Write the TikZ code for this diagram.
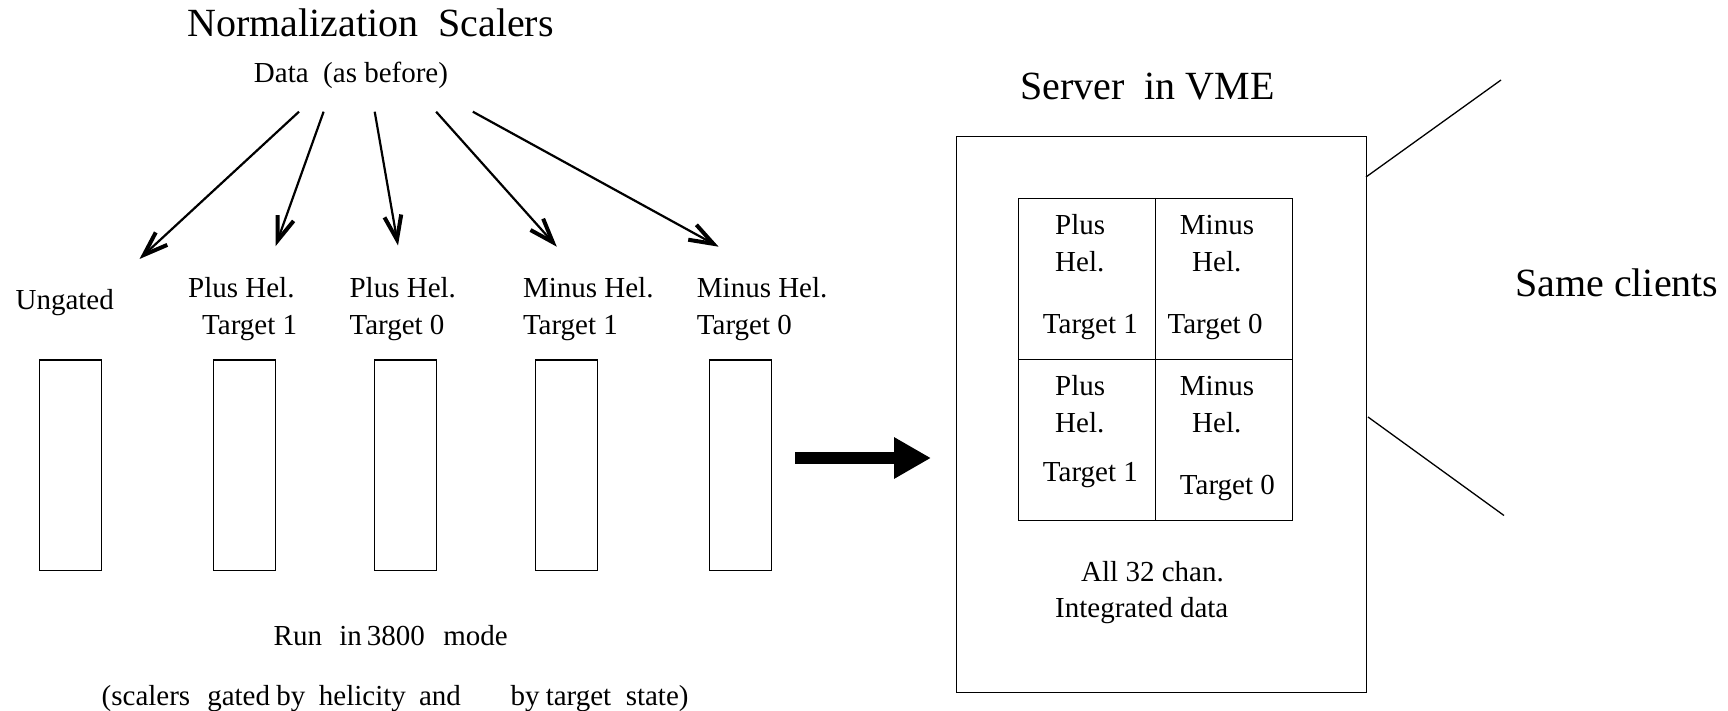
\documentclass[tikz,border=0pt]{standalone}
\usepackage{fontspec}
\setmainfont{Liberation Serif}
\usetikzlibrary{arrows.meta}
\begin{document}
\begin{tikzpicture}[x=1pt,y=-1pt,
  sm/.style={font=\fontsize{29}{35}\selectfont, inner sep=0pt, anchor=base west},
  smc/.style={font=\fontsize{29}{35}\selectfont, inner sep=0pt, anchor=base},
  big/.style={font=\fontsize{40}{48}\selectfont, inner sep=0pt, anchor=base west},
  scaler/.style={draw, line width=1.4pt, minimum width=62.4pt, minimum height=210.7pt, inner sep=0pt, anchor=north west},
  dataarrow/.style={line width=2.2pt, -{Straight Barb[length=24pt,width=17pt,line width=4pt]}},
  thinline/.style={line width=1.3pt},
  fatarrow/.style={line width=12pt, -{Triangle[length=37pt,width=39pt]}}]
\useasboundingbox (0,0) rectangle (1728,711);

% titles
\node[big] (title) at (187,37) {Normalization\ \ Scalers};
\node[smc] (data) at (351,83) {Data\ \ (as before)};

% column labels
\node[sm] (ungated) at (15.4,309.5) {Ungated};
\node[sm] (l2a) at (188,297.7) {Plus Hel.};
\node[sm] (l2b) at (202,334.3) {Target 1};
\node[sm] (l3a) at (349.4,297.7) {Plus Hel.};
\node[sm] (l3b) at (349.4,334.3) {Target 0};
\node[sm] (l4a) at (522.8,297.7) {Minus Hel.};
\node[sm] (l4b) at (522.8,334.3) {Target 1};
\node[sm] (l5a) at (696.7,297.7) {Minus Hel.};
\node[sm] (l5b) at (696.7,334.3) {Target 0};

% scaler boxes
\node[scaler] (r1) at (38.6,359.3) {};
\node[scaler] (r2) at (212.5,359.3) {};
\node[scaler] (r3) at (373.5,359.3) {};
\node[scaler] (r4) at (534.6,359.3) {};
\node[scaler] (r5) at (708.5,359.3) {};

% arrows from data
\coordinate (s1) at (299,111.7);   \coordinate (t1) at (139.5,259);
\coordinate (s2) at (323.6,111.7); \coordinate (t2) at (275.5,246.3);
\coordinate (s3) at (374.7,111.7); \coordinate (t3) at (398,245.5);
\coordinate (s4) at (436.1,111.7); \coordinate (t4) at (556.8,246.7);
\coordinate (s5) at (472.8,111.7); \coordinate (t5) at (718.6,246.7);
\draw[dataarrow] (s1) -- (t1);
\draw[dataarrow] (s2) -- (t2);
\draw[dataarrow] (s3) -- (t3);
\draw[dataarrow] (s4) -- (t4);
\draw[dataarrow] (s5) -- (t5);

% bottom texts
\node[sm] (run) at (273.5,645) {\rlap{Run}\hspace{65.6pt}\rlap{in}\hspace{27.5pt}\rlap{3800}\hspace{76.6pt}mode};
\node[sm] (gated) at (101.5,705) {\rlap{(scalers}\hspace{105.6pt}\rlap{gated}\hspace{69pt}\rlap{by}\hspace{42.7pt}\rlap{helicity}\hspace{100pt}\rlap{and}\hspace{91.7pt}\rlap{by}\hspace{35pt}\rlap{target}\hspace{80pt}state)};

% fat arrow
\coordinate (fa) at (795,458);
\coordinate (fb) at (931,458);
\draw[fatarrow] (fa) -- (fb);

% server
\node[big] (srvlabel) at (1020,99.3) {Server\ \ in VME};
\node[draw, line width=1.4pt, minimum width=410pt, minimum height=556pt, inner sep=0pt, anchor=north west] (server) at (956,136) {};
\node[draw, line width=1.4pt, minimum width=273.5pt, minimum height=321.5pt, inner sep=0pt, anchor=north west] (grid) at (1018,198) {};
\draw[thinline] (grid.north) -- (grid.south);
\draw[thinline] (grid.west) -- (grid.east);

\node[sm] (tl1) at (1055,235) {Plus};
\node[sm] (tl2) at (1055,271) {Hel.};
\node[sm] (tl3) at (1042.7,333) {Target 1};
\node[sm] (tr1) at (1179.7,235) {Minus};
\node[sm] (tr2) at (1192,271) {Hel.};
\node[sm] (tr3) at (1167.4,333) {Target 0};
\node[sm] (bl1) at (1055,395) {Plus};
\node[sm] (bl2) at (1055,432) {Hel.};
\node[sm] (bl3) at (1042.7,481) {Target 1};
\node[sm] (br1) at (1179.7,395) {Minus};
\node[sm] (br2) at (1192,432) {Hel.};
\node[sm] (br3) at (1179.7,494) {Target 0};
\node[sm] (all32) at (1081,581) {All 32 chan.};
\node[sm] (integ) at (1055,617) {Integrated data};

% clients
\node[big] (clients) at (1515,296.7) {Same clients};
\coordinate (c1a) at (1366,177);  \coordinate (c1b) at (1501,80);
\coordinate (c2a) at (1368,417);  \coordinate (c2b) at (1504,515.5);
\draw[thinline] (c1a) -- (c1b);
\draw[thinline] (c2a) -- (c2b);
\end{tikzpicture}
\end{document}
